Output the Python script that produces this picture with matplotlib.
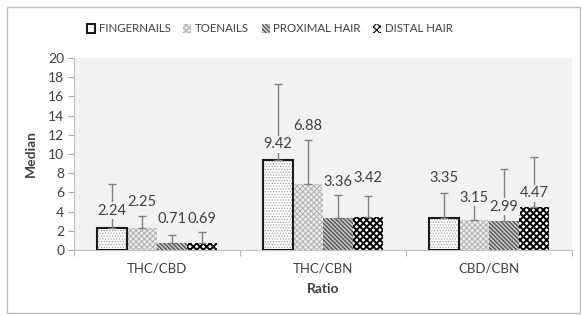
import matplotlib
matplotlib.use("Agg")
import matplotlib.pyplot as plt
from matplotlib.patches import Patch, Rectangle
import numpy as np

categories = ["THC/CBD", "THC/CBN", "CBD/CBN"]
series = ["FINGERNAILS", "TOENAILS", "PROXIMAL HAIR", "DISTAL HAIR"]
fingernails = [2.24, 9.42, 3.35]
toenails = [2.25, 6.88, 3.15]
proximal_hair = [0.71, 3.36, 2.99]
distal_hair = [0.69, 3.42, 4.47]
fingernails_err = [4.61, 7.84, 2.55]
toenails_err = [1.32, 4.58, 1.6]
proximal_hair_err = [0.85, 2.40, 5.45]
distal_hair_err = [1.21, 2.20, 5.18]

# label heights (layout, in data units) as in the original chart
label_y = [[4.1, 11.0, 7.5], [5.0, 12.9, 5.45], [3.2, 7.1, 4.5], [3.2, 7.5, 5.9]]

values = [fingernails, toenails, proximal_hair, distal_hair]
errs = [fingernails_err, toenails_err, proximal_hair_err, distal_hair_err]

plt.rcParams['font.family'] = ['Lato', 'DejaVu Sans']
text_col = '#404040'
bg = '#f2f2f2'

fig = plt.figure(figsize=(5.82, 3.15), dpi=100)
fig.patches.append(Rectangle((7/582, 2/315), 573/582, 306/315, transform=fig.transFigure,
                             fill=False, edgecolor='#bfbfbf', lw=1))
ax = fig.add_axes([74/582, 1-250/315, 498/582, 192/315])
ax.set_facecolor(bg)

styles = [
    dict(hatch='......', color='#a0a0a0', hlw=0.6, face='white'),
    dict(hatch='xxxxxx', color='#b0b0b0', hlw=0.7, face='#ececec'),
    dict(hatch='\\\\\\\\\\\\\\\\', color='#4a4a4a', hlw=0.9, face='#c8c8c8'),
    dict(hatch='xxxxx', color='#000000', hlw=1.4, face='white'),
]

x = np.arange(len(categories))
w = 0.18
handles = []
for j, (vals, er, st) in enumerate(zip(values, errs, styles)):
    pos = x + (j - 1.5) * w
    plt.rcParams['hatch.linewidth'] = st['hlw']
    ax.bar(pos, vals, w, facecolor=st['face'], edgecolor=st['color'], hatch=st['hatch'],
           linewidth=0, zorder=2)
    if j == 0:
        ax.bar(pos, vals, w, fill=False, edgecolor='#1a1a1a', linewidth=1.5, zorder=3)
    ax.errorbar(pos, vals, yerr=[np.zeros(len(vals)), er], fmt='none', ecolor='#808080',
                elinewidth=1, capsize=3, capthick=1, zorder=4)
    for k in range(len(vals)):
        ax.text(pos[k], label_y[j][k], f"{vals[k]:.2f}", ha='center', va='center',
                fontsize=10.5, color=text_col, zorder=5,
                bbox=dict(facecolor=bg, edgecolor='none', pad=1))
    if j == 0:
        handles.append(Patch(facecolor='white', edgecolor='#1a1a1a', linewidth=1.5))
    else:
        handles.append(Patch(facecolor=st['face'], edgecolor=st['color'], hatch=st['hatch'],
                             linewidth=0))

ax.set_xlim(-0.5, 2.5)
ax.set_ylim(0, 20)
ax.set_yticks(np.arange(0, 21, 2))
ax.set_xticks(x)
ax.set_xticklabels(categories)
ax.set_xticks([-0.5, 0.5, 1.5, 2.5], minor=True)
ax.tick_params(axis='x', which='major', length=0, pad=9, labelsize=9.5, colors=text_col)
ax.tick_params(axis='x', which='minor', length=4, color='#a6a6a6')
ax.tick_params(axis='y', length=4, color='#a6a6a6', labelsize=10, labelcolor=text_col, pad=3)
for s in ['top', 'right']:
    ax.spines[s].set_visible(False)
for s in ['left', 'bottom']:
    ax.spines[s].set_color('#bfbfbf')
ax.set_xlabel("Ratio", fontsize=10, fontweight='bold', color=text_col, labelpad=6)
ax.set_ylabel("Median", fontsize=10, fontweight='bold', color=text_col, labelpad=8)

plt.rcParams['hatch.linewidth'] = 0.8
leg = fig.legend(handles=handles, labels=series, loc='center',
                 bbox_to_anchor=(270/582, 1-29/315), ncol=4, frameon=False,
                 fontsize=8.3, handlelength=0.7, handleheight=0.7, handletextpad=0.3,
                 columnspacing=1.1, labelcolor=text_col)

fig.savefig("out.png", dpi=100)
